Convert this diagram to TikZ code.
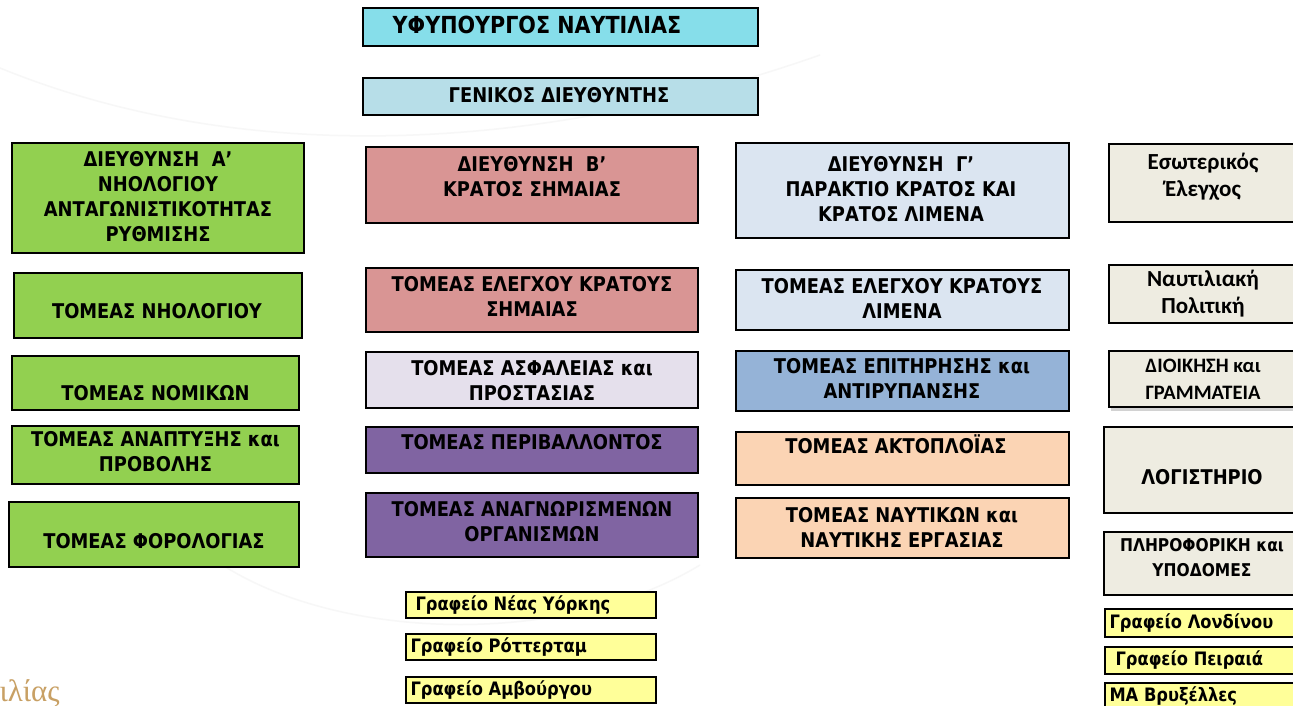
\documentclass[tikz,border=0pt]{standalone}
\usepackage{fontspec}
\setmainfont{DejaVu Sans}[FakeStretch=0.88]
\newfontfamily\calfont{Carlito}
\newfontfamily\logofont{Liberation Serif}
\usetikzlibrary{shadows}

\definecolor{minblue}{RGB}{134,222,234}
\definecolor{gdblue}{RGB}{183,222,232}
\definecolor{grn}{RGB}{146,208,80}
\definecolor{rose}{RGB}{217,149,148}
\definecolor{lav}{RGB}{229,224,236}
\definecolor{purp}{RGB}{128,100,162}
\definecolor{pale}{RGB}{219,229,241}
\definecolor{steel}{RGB}{149,179,215}
\definecolor{peach}{RGB}{251,212,180}
\definecolor{beige}{RGB}{238,236,225}
\definecolor{yel}{RGB}{255,255,153}
\definecolor{gold}{RGB}{200,160,100}

\begin{document}
\begin{tikzpicture}[x=1pt,y=-1pt,
    box/.style={draw, rectangle, line width=2.5pt, inner sep=0pt},
    lbl/.style={align=center, font=\bfseries\fontsize{20.3}{25}\selectfont},
    cal/.style={align=center, font=\calfont\bfseries\fontsize{23}{27}\selectfont},
    ybox/.style={box, fill=yel, minimum height=27pt},
    ytxt/.style={anchor=west, font=\bfseries\fontsize{18.5}{20}\selectfont},
    bgline/.style={gray!6, line width=1.5pt}]
    \fill[white] (0,0) rectangle (1293,706);
    \path[use as bounding box] (0,0) rectangle (1293,706);
    \clip (0,0) rectangle (1293,706);

    % faint background swooshes
    \draw[bgline] (0,68) .. controls (250,170) and (550,150) .. (820,55);
    \draw[bgline] (215,560) .. controls (330,640) and (560,650) .. (700,565);
    \node[anchor=base west, text=gold, font=\logofont\fontsize{31}{33}\selectfont] (logo) at (-4,701) {ιλίας};

    % minister -> general director
    \node[box, fill=minblue, minimum width=395pt, minimum height=38pt] (MIN) at (560.5,27) {};
    \node[lbl, font=\bfseries\fontsize{23.5}{25}\selectfont] (MINt) at (537,25) {ΥΦΥΠΟΥΡΓΟΣ ΝΑΥΤΙΛΙΑΣ};
    \node[box, fill=gdblue, minimum width=395pt, minimum height=37pt] (GD) at (560.5,96.5) {};
    \node[lbl] (GDt) at (559,95) {ΓΕΝΙΚΟΣ ΔΙΕΥΘΥΝΤΗΣ};

    % directorate A
    \node[box, fill=grn, minimum width=292pt, minimum height=110pt] (DA) at (158,198) {};
    \node[lbl] (DAt) at (158,197) {ΔΙΕΥΘΥΝΣΗ~~Α’\\ΝΗΟΛΟΓΙΟΥ\\ΑΝΤΑΓΩΝΙΣΤΙΚΟΤΗΤΑΣ\\ΡΥΘΜΙΣΗΣ};
    \node[box, fill=grn, minimum width=288pt, minimum height=65pt] (A1) at (158,305.5) {};
    \node[lbl] (A1t) at (157,311) {ΤΟΜΕΑΣ ΝΗΟΛΟΓΙΟΥ};
    \node[box, fill=grn, minimum width=287pt, minimum height=54pt] (A2) at (155.5,383) {};
    \node[lbl] (A2t) at (155.5,393) {ΤΟΜΕΑΣ ΝΟΜΙΚΩΝ};
    \node[box, fill=grn, minimum width=287pt, minimum height=58pt] (A3) at (155.5,455) {};
    \node[lbl] (A3t) at (155.5,452) {ΤΟΜΕΑΣ ΑΝΑΠΤΥΞΗΣ και\\ΠΡΟΒΟΛΗΣ};
    \node[box, fill=grn, minimum width=290pt, minimum height=65pt] (A4) at (154,534.5) {};
    \node[lbl] (A4t) at (154,541) {ΤΟΜΕΑΣ ΦΟΡΟΛΟΓΙΑΣ};

    % directorate B
    \node[box, fill=rose, minimum width=332pt, minimum height=76pt] (DB) at (532,185) {};
    \node[lbl] (DBt) at (532,177) {ΔΙΕΥΘΥΝΣΗ~~Β’\\ΚΡΑΤΟΣ ΣΗΜΑΙΑΣ};
    \node[box, fill=rose, minimum width=332pt, minimum height=64pt] (B1) at (532,300) {};
    \node[lbl] (B1t) at (532,296) {ΤΟΜΕΑΣ ΕΛΕΓΧΟΥ ΚΡΑΤΟΥΣ\\ΣΗΜΑΙΑΣ};
    \node[box, fill=lav, minimum width=332pt, minimum height=56pt] (B2) at (532,380) {};
    \node[lbl] (B2t) at (532,381) {ΤΟΜΕΑΣ ΑΣΦΑΛΕΙΑΣ και\\ΠΡΟΣΤΑΣΙΑΣ};
    \node[box, fill=purp, minimum width=332pt, minimum height=46pt] (B3) at (532,450) {};
    \node[lbl] (B3t) at (532,442.5) {ΤΟΜΕΑΣ ΠΕΡΙΒΑΛΛΟΝΤΟΣ};
    \node[box, fill=purp, minimum width=332pt, minimum height=64pt] (B4) at (532,525) {};
    \node[lbl] (B4t) at (532,522) {ΤΟΜΕΑΣ ΑΝΑΓΝΩΡΙΣΜΕΝΩΝ\\ΟΡΓΑΝΙΣΜΩΝ};

    % directorate C
    \node[box, fill=pale, minimum width=333pt, minimum height=95pt] (DC) at (902.5,190.5) {};
    \node[lbl] (DCt) at (901,189) {ΔΙΕΥΘΥΝΣΗ~~Γ’\\ΠΑΡΑΚΤΙΟ ΚΡΑΤΟΣ ΚΑΙ\\ΚΡΑΤΟΣ ΛΙΜΕΝΑ};
    \node[box, fill=pale, minimum width=333pt, minimum height=60pt] (C1) at (902.5,300) {};
    \node[lbl] (C1t) at (902,298) {ΤΟΜΕΑΣ ΕΛΕΓΧΟΥ ΚΡΑΤΟΥΣ\\ΛΙΜΕΝΑ};
    \node[box, fill=steel, minimum width=333pt, minimum height=60pt] (C2) at (902.5,381) {};
    \node[lbl] (C2t) at (902,378) {ΤΟΜΕΑΣ ΕΠΙΤΗΡΗΣΗΣ και\\ΑΝΤΙΡΥΠΑΝΣΗΣ};
    \node[box, fill=peach, minimum width=333pt, minimum height=53pt] (C3) at (902.5,458.5) {};
    \node[lbl] (C3t) at (896,444) {ΤΟΜΕΑΣ ΑΚΤΟΠΛΟΪΑΣ};
    \node[box, fill=peach, minimum width=333pt, minimum height=60pt] (C4) at (902.5,528) {};
    \node[lbl] (C4t) at (902,527) {ΤΟΜΕΑΣ ΝΑΥΤΙΚΩΝ και\\ΝΑΥΤΙΚΗΣ ΕΡΓΑΣΙΑΣ};

    % staff units
    \node[box, fill=beige, minimum width=191pt, minimum height=78pt] (S1) at (1204.5,183) {};
    \node[cal] (S1t) at (1203,177) {Εσωτερικός\\Έλεγχος};
    \node[box, fill=beige, minimum width=191pt, minimum height=58pt] (S2) at (1204.5,294) {};
    \node[cal] (S2t) at (1203,294) {Ναυτιλιακή\\Πολιτική};
    \node[box, fill=beige, minimum width=191pt, minimum height=56pt,
          drop shadow={shadow xshift=2pt, shadow yshift=-4pt, opacity=0.35}] (S3) at (1204.5,379) {};
    \node[cal, font=\calfont\bfseries\fontsize{20.5}{27}\selectfont] (S3t) at (1203,379.5) {ΔΙΟΙΚΗΣΗ και\\ΓΡΑΜΜΑΤΕΙΑ};
    \node[box, fill=beige, minimum width=196pt, minimum height=86pt] (S4) at (1202,470) {};
    \node[lbl] (S4t) at (1202,477.5) {ΛΟΓΙΣΤΗΡΙΟ};
    \node[box, fill=beige, minimum width=196pt, minimum height=63pt] (S5) at (1202,563.5) {};
    \node[lbl, font=\bfseries\fontsize{17.6}{25}\selectfont] (S5t) at (1202,558) {ΠΛΗΡΟΦΟΡΙΚΗ και\\ΥΠΟΔΟΜΕΣ};

    % offices abroad
    \node[ybox, minimum width=250pt, minimum height=26pt] (NY) at (531,605) {};
    \node[ytxt] (NYt) at (412,605) {Γραφείο Νέας Υόρκης};
    \node[ybox, minimum width=250pt, minimum height=26pt] (ROT) at (531,647) {};
    \node[ytxt] (ROTt) at (407,647) {Γραφείο Ρόττερταμ};
    \node[ybox, minimum width=250pt, minimum height=26pt] (HAM) at (531,690) {};
    \node[ytxt] (HAMt) at (407,690) {Γραφείο Αμβούργου};

    \node[ybox, minimum width=196pt, minimum height=28pt] (LON) at (1203,623) {};
    \node[ytxt] (LONt) at (1106,623) {Γραφείο Λονδίνου};
    \node[ybox, minimum width=196pt] (PIR) at (1203,660.5) {};
    \node[ytxt] (PIRt) at (1112,660.5) {Γραφείο Πειραιά};
    \node[ybox, minimum width=196pt] (BRU) at (1203,696.5) {};
    \node[ytxt] (BRUt) at (1106,696.5) {ΜΑ Βρυξέλλες};
\end{tikzpicture}
\end{document}
